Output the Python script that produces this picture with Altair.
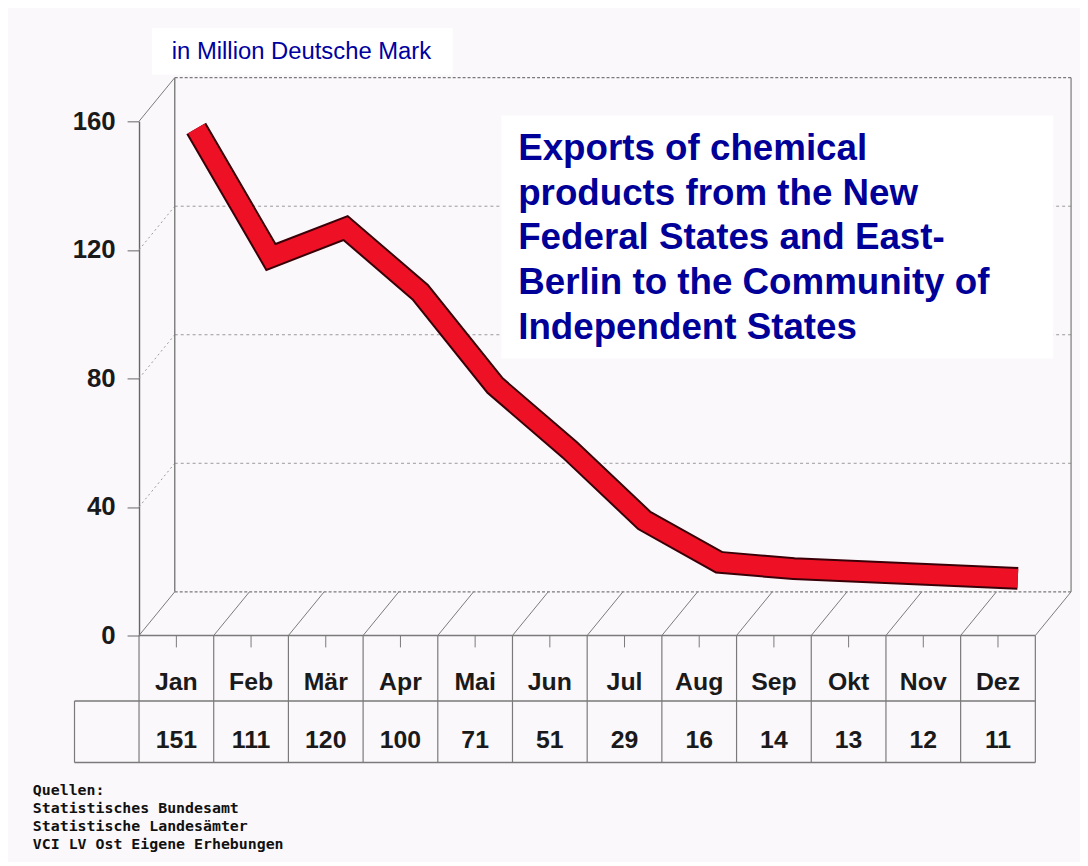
import altair as alt
import pandas as pd

months = ["Jan", "Feb", "Mär", "Apr", "Mai", "Jun", "Jul", "Aug", "Sep", "Okt", "Nov", "Dez"]
values = [151, 111, 120, 100, 71, 51, 29, 16, 14, 13, 12, 11]
y_ticks = [0, 40, 80, 120, 160]
grid_levels = [40, 80, 120]
title_lines = ["Exports of chemical", "products from the New", "Federal States and East-",
               "Berlin to the Community of", "Independent States"]
subtitle = "in Million Deutsche Mark"
source_lines = ["Quellen:", "Statistisches Bundesamt", "Statistische  Landesämter",
                "VCI LV Ost  Eigene Erhebungen"]

df = pd.DataFrame({"month": months, "value": values})
one = pd.DataFrame({"d": [0]})
grid_df = pd.DataFrame({"value": grid_levels})

W, H = 903, 518
DX, DY = 36, -44
STEP = W / 12.0
FRAME = "#7a7a7a"

xscale = alt.Scale(domain=months, paddingInner=0, paddingOuter=0)
yscale = alt.Scale(domain=[0, 160], nice=False, zero=True)
X = alt.X("month:N", scale=xscale, axis=None)
yaxis = alt.Axis(values=y_ticks, title=None, grid=False, domainColor="#666666",
                 domainWidth=1.4, tickColor="#666666", tickSize=12,
                 labelFontSize=26, labelFont="Liberation Sans",
                 labelFontWeight="bold", labelColor="#1a1a1a", labelPadding=12)
Y = alt.Y("value:Q", scale=yscale, axis=yaxis)


def seg(x1, y1, x2, y2, color=FRAME, width=1.2, dash=None):
    kw = dict(color=color, strokeWidth=width)
    if dash:
        kw["strokeDash"] = dash
    return alt.Chart(one).mark_rule(**kw).encode(
        x=alt.value(x1), x2=alt.value(x2), y=alt.value(y1), y2=alt.value(y2))


layers = []

# back grid lines + left diagonals
layers.append(
    alt.Chart(grid_df).mark_rule(color="#999999", strokeWidth=1, strokeDash=[3, 3], yOffset=DY).encode(
        x=alt.value(DX), x2=alt.value(W + DX), y=Y)
)
layers.append(
    alt.Chart(grid_df).mark_rule(color="#999999", strokeWidth=1, strokeDash=[2, 3], y2Offset=DY).encode(
        x=alt.value(0), x2=alt.value(DX), y=Y, y2="value:Q")
)

# back plane frame
layers += [
    seg(DX, DY, W + DX, DY, width=1.2, dash=[3, 2]),
    seg(DX, DY, DX, H + DY, width=1.4),
    seg(W + DX, DY, W + DX, H + DY, width=1.2),
    seg(DX, H + DY, W + DX, H + DY, width=1.2, dash=[3, 2]),
    seg(0, 0, DX, DY, width=1.0),
    seg(W, H, W + DX, H + DY, width=1.0),
    seg(0, H, W, H, width=1.4),
]

# floor diagonals at column boundaries
layers.append(
    alt.Chart(df).mark_rule(color=FRAME, strokeWidth=1, xOffset=-STEP / 2, x2Offset=-STEP / 2 + DX).encode(
        x=X, x2="month:N", y=alt.value(H), y2=alt.value(H + DY))
)
# small ticks under the floor at column centres
layers.append(
    alt.Chart(df).mark_rule(color=FRAME, strokeWidth=1).encode(
        x=X, y=alt.value(H), y2=alt.value(H + 12))
)

# table grid
TOP_ROW2 = 584
BOTTOM = 646
LEFT2 = -65
layers.append(
    alt.Chart(df).mark_rule(color=FRAME, strokeWidth=1.2, xOffset=-STEP / 2).encode(
        x=X, y=alt.value(H), y2=alt.value(BOTTOM))
)
layers += [
    seg(W, H, W, BOTTOM, width=1.2),
    seg(LEFT2, TOP_ROW2, W, TOP_ROW2, width=1.4),
    seg(LEFT2, BOTTOM, W, BOTTOM, width=1.4),
    seg(LEFT2, TOP_ROW2, LEFT2, BOTTOM, width=1.2),
]

# table text
layers.append(
    alt.Chart(df).mark_text(font="Liberation Sans", fontSize=25, fontWeight="bold", color="#1a1a1a",
                            baseline="middle", align="center").encode(
        x=X, y=alt.value(565), text="month:N")
)
layers.append(
    alt.Chart(df).mark_text(font="Liberation Sans", fontSize=25, fontWeight="bold", color="#1a1a1a",
                            baseline="middle", align="center").encode(
        x=X, y=alt.value(623), text="value:Q")
)

# data line (ribbon)
layers.append(
    alt.Chart(df).mark_line(color="#3a0008", strokeWidth=23, strokeJoin="miter",
                            xOffset=20, yOffset=-22).encode(x=X, y=Y)
)
layers.append(
    alt.Chart(df).mark_line(color="#ee1126", strokeWidth=19, strokeJoin="miter",
                            xOffset=20, yOffset=-22).encode(x=X, y=Y)
)

# title box
layers.append(
    alt.Chart(one).mark_rect(color="white").encode(
        x=alt.value(365), x2=alt.value(921), y=alt.value(-6), y2=alt.value(239))
)
layers.append(
    alt.Chart(one).mark_text(font="Liberation Sans", fontSize=37, fontWeight="bold",
                             color="#000099", align="left", baseline="top",
                             lineBreak="\n", lineHeight=45).encode(
        x=alt.value(382), y=alt.value(10), text=alt.value("\n".join(title_lines)))
)

# subtitle box
layers.append(
    alt.Chart(one).mark_rect(color="white").encode(
        x=alt.value(13), x2=alt.value(316), y=alt.value(-94), y2=alt.value(-47))
)
layers.append(
    alt.Chart(one).mark_text(font="Liberation Sans", fontSize=24, color="#0000a0",
                             align="left", baseline="middle").encode(
        x=alt.value(33), y=alt.value(-70), text=alt.value(subtitle))
)

# sources
layers.append(
    alt.Chart(one).mark_text(font="DejaVu Sans Mono", fontSize=15, fontWeight="bold",
                             color="#111111", align="left", baseline="middle",
                             lineBreak="\n", lineHeight=18).encode(
        x=alt.value(-107), y=alt.value(674), text=alt.value("\n".join(source_lines)))
)

chart = alt.layer(*layers).properties(
    width=W, height=H,
    padding={"left": 132, "top": 111, "right": 45, "bottom": 225},
    autosize=alt.AutoSizeParams(type="none"),
    background="#fbf8fb",
).configure_view(stroke=None)

chart.save("out.html", embed_options={"renderer": "svg", "actions": False})
